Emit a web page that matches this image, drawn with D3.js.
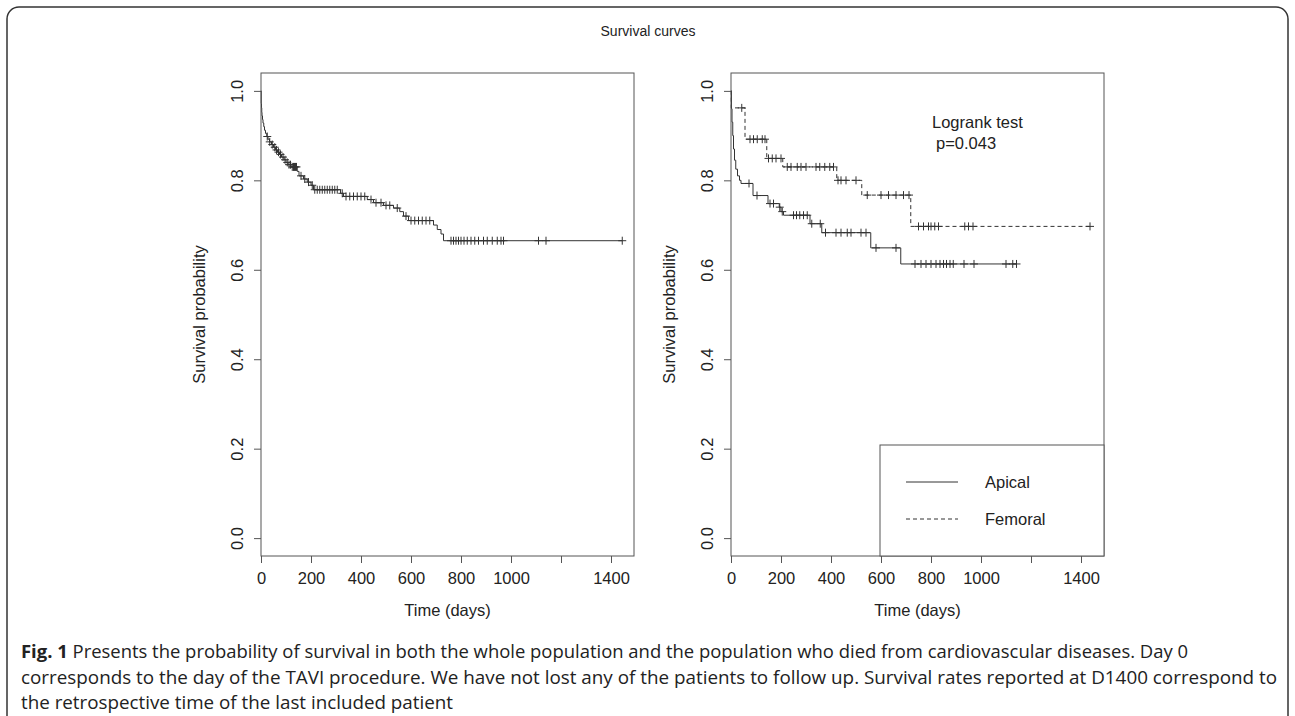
<!DOCTYPE html>
<html>
<head>
<meta charset="utf-8">
<script src="https://cdn.jsdelivr.net/npm/d3@7/dist/d3.min.js"></script>
<style>
  body { margin: 0; background: #fff; }
  .r text { font-family: "Liberation Sans", Arial, sans-serif; fill: #222; }
</style>
</head>
<body>
<script>
// whole population: [day, survival after step]
let allSteps = [[0, 1.0], [1, 0.972], [2, 0.962], [3, 0.952], [4, 0.944], [6, 0.936], [8, 0.928], [11, 0.92],
    [14, 0.912], [18, 0.905], [23, 0.898], [28, 0.892], [34, 0.886], [42, 0.88], [50, 0.874], [58, 0.868],
    [66, 0.863], [74, 0.858], [82, 0.852], [92, 0.846], [100, 0.84], [108, 0.835], [120, 0.83], [145, 0.82],
    [152, 0.81], [170, 0.803], [185, 0.796], [200, 0.789], [210, 0.779], [318, 0.771], [330, 0.764],
    [425, 0.757], [450, 0.75], [490, 0.744], [530, 0.738], [555, 0.73], [570, 0.72], [590, 0.71],
    [690, 0.70], [705, 0.69], [720, 0.68], [730, 0.665]]
let allCensor = [25, 35, 45, 55, 62, 70, 78, 88, 96, 105, 112, 118, 125, 130, 134, 138, 142, 160, 175, 190,
    205, 215, 225, 235, 245, 255, 265, 275, 285, 295, 305, 325, 340, 355, 370, 385, 400, 415, 440, 460, 480,
    500, 515, 545, 580, 600, 615, 630, 645, 660, 675, 760, 770, 780, 790, 800, 812, 825, 840, 855, 870, 890,
    905, 925, 945, 960, 970, 1110, 1140, 1445]

// cardiovascular deaths, by access route
let apicalSteps = [[0, 1.0], [2, 0.96], [4, 0.93], [7, 0.9], [10, 0.87], [14, 0.845], [19, 0.825], [26, 0.81],
    [34, 0.8], [40, 0.793], [88, 0.766], [148, 0.748], [193, 0.74], [200, 0.73], [210, 0.722], [316, 0.703],
    [363, 0.683], [559, 0.649], [679, 0.613]]
let apicalCensor = [72, 104, 156, 170, 195, 205, 250, 262, 275, 290, 305, 323, 357, 378, 420, 440, 465, 480,
    520, 540, 580, 660, 736, 760, 780, 800, 820, 836, 850, 862, 876, 889, 932, 972, 1100, 1127, 1142]

let femoralSteps = [[0, 1.0], [1, 0.962], [56, 0.892], [143, 0.849], [207, 0.83], [423, 0.80], [523, 0.767],
    [719, 0.697]]
let femoralCensor = [43, 76, 90, 105, 125, 136, 150, 165, 180, 200, 225, 240, 265, 280, 300, 340, 355, 375,
    395, 410, 428, 440, 460, 500, 545, 600, 630, 660, 690, 712, 750, 770, 790, 800, 815, 830, 935, 950, 968, 1436]

let xTicks = [0, 200, 400, 600, 800, 1000, 1200, 1400]
let xTickLabels = ['0', '200', '400', '600', '800', '1000', '', '1400']
let yTicks = [0, 0.2, 0.4, 0.6, 0.8, 1.0]
let legendNames = ['Apical', 'Femoral']

let svg = d3.select('body').append('svg')
    .attr('class', 'r')
    .attr('width', 1295)
    .attr('height', 716)

svg.append('rect')
    .attr('x', 7).attr('y', 7)
    .attr('width', 1281).attr('height', 740)
    .attr('rx', 12)
    .attr('fill', 'none')
    .attr('stroke', '#333')
    .attr('stroke-width', 1.5)

svg.append('text')
    .attr('x', 648).attr('y', 36)
    .attr('text-anchor', 'middle')
    .style('font-size', '14px')
    .text('Survival curves')

let plotTop = 73, plotBottom = 556, plotW = 373

function survAt(steps, t) {
    let v = steps[0][1]
    for (let s of steps) if (s[0] <= t) v = s[1]
    return v
}

function drawPanel(left, curves) {
    let x = d3.scaleLinear().domain([0, 1492]).range([left, left + plotW])
    let y = d3.scaleLinear().domain([-0.04, 1.04]).range([plotBottom, plotTop])
    let g = svg.append('g')

    let xa = g.append('g')
        .attr('transform', `translate(0,${plotBottom})`)
        .call(d3.axisBottom(x).tickValues(xTicks).tickSize(7).tickPadding(9)
            .tickFormat((d, i) => xTickLabels[i]))
    let ya = g.append('g')
        .attr('transform', `translate(${left},0)`)
        .call(d3.axisLeft(y).tickValues(yTicks).tickSize(7).tickFormat(d3.format('.1f')))
    for (let a of [xa, ya]) {
        a.select('.domain').remove()
        a.selectAll('line').attr('stroke', '#555')
        a.selectAll('text').style('font-size', '16.5px').attr('fill', '#222')
            .style('font-family', '"Liberation Sans", Arial, sans-serif')
    }
    ya.selectAll('text')
        .attr('text-anchor', 'middle')
        .attr('x', null).attr('dy', null).attr('y', null)
        .attr('dominant-baseline', 'central')
        .attr('transform', 'translate(-24,0) rotate(-90)')

    g.append('text')
        .attr('transform', `translate(${left - 56},${(plotTop + plotBottom) / 2}) rotate(-90)`)
        .attr('text-anchor', 'middle')
        .style('font-size', '16.5px')
        .text('Survival probability')
    g.append('text')
        .attr('x', left + plotW / 2).attr('y', 616)
        .attr('text-anchor', 'middle')
        .style('font-size', '16.5px')
        .text('Time (days)')

    for (let c of curves) {
        let last = d3.max(c.censor)
        let pts = c.steps.concat([[last, survAt(c.steps, last)]])
        let line = d3.line().x(d => x(d[0])).y(d => y(d[1])).curve(d3.curveStepAfter)
        g.append('path')
            .attr('d', line(pts))
            .attr('fill', 'none')
            .attr('stroke', '#333')
            .attr('stroke-width', 1)
            .attr('stroke-dasharray', c.dash)
        g.selectAll(null)
            .data(c.censor)
            .enter()
            .append('path')
            .attr('d', t => {
                let px = x(t), py = y(survAt(c.steps, t))
                return `M${px - 4},${py}H${px + 4}M${px},${py - 4}V${py + 4}`
            })
            .attr('stroke', '#333')
            .attr('stroke-width', 1)
    }

    g.append('rect')
        .attr('x', left).attr('y', plotTop)
        .attr('width', plotW).attr('height', plotBottom - plotTop)
        .attr('fill', 'none')
        .attr('stroke', '#555')
    return {x, y, g}
}

drawPanel(261, [{steps: allSteps, censor: allCensor, dash: null}])
let right = drawPanel(731, [
    {steps: apicalSteps, censor: apicalCensor, dash: null},
    {steps: femoralSteps, censor: femoralCensor, dash: '4,3'}
])

// logrank annotation
right.g.append('text').attr('x', 932).attr('y', 128).style('font-size', '16.5px').text('Logrank test')
right.g.append('text').attr('x', 936).attr('y', 149).style('font-size', '16.5px').text('p=0.043')

// legend
let lg = right.g.append('g')
lg.append('rect')
    .attr('x', 880).attr('y', 445)
    .attr('width', 224).attr('height', plotBottom - 445)
    .attr('fill', '#fff').attr('stroke', '#555')
legendNames.forEach((n, i) => {
    let ly = 482 + i * 37
    lg.append('line')
        .attr('x1', 906).attr('x2', 958).attr('y1', ly).attr('y2', ly)
        .attr('stroke', '#333')
        .attr('stroke-dasharray', i ? '4,3' : null)
    lg.append('text').attr('x', 985).attr('y', ly + 6).style('font-size', '16.5px').text(n)
})

// caption
let capLines = [
    {y: 658, len: 1167, bold: 'Fig. 1', text: ' Presents the probability of survival in both the whole population and the population who died from cardiovascular diseases. Day 0'},
    {y: 684, len: 1256, bold: '', text: 'corresponds to the day of the TAVI procedure. We have not lost any of the patients to follow up. Survival rates reported at D1400 correspond to'},
    {y: 709, len: 432, bold: '', text: 'the retrospective time of the last included patient'}
]
for (let l of capLines) {
    let t = svg.append('text')
        .attr('x', 21).attr('y', l.y)
        .attr('textLength', l.len)
        .attr('lengthAdjust', 'spacingAndGlyphs')
        .style('font-family', '"Open Sans", "Noto Sans", sans-serif')
        .style('font-size', '18px')
        .style('fill', '#222')
    if (l.bold) t.append('tspan').style('font-weight', 'bold').text(l.bold)
    t.append('tspan').text(l.text)
}
</script>
</body>
</html>
